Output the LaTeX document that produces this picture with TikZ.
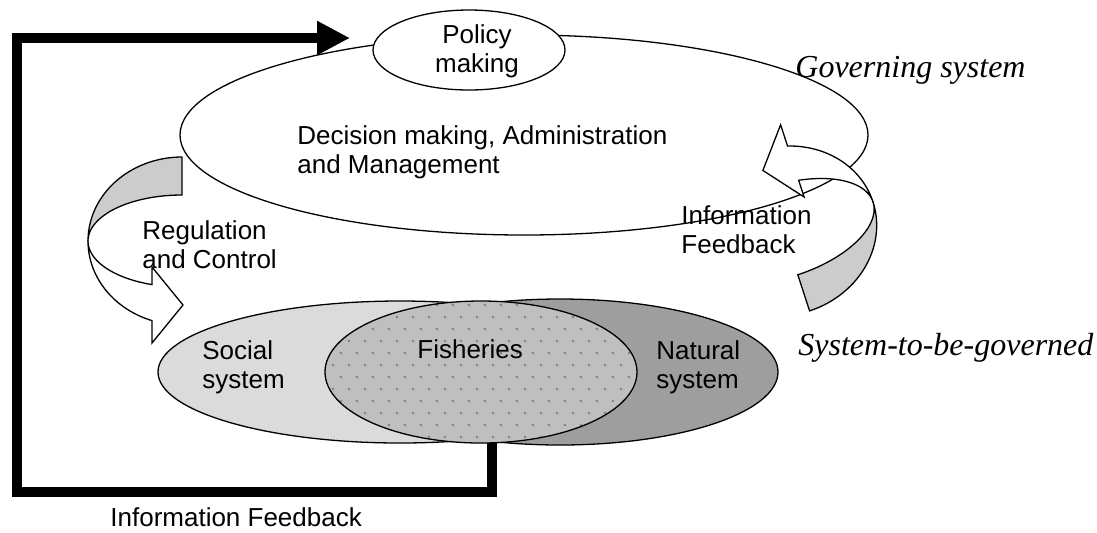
\documentclass[tikz,border=0pt]{standalone}
\usepackage{fontspec}
\setmainfont{Liberation Sans}
\newfontfamily\tnr{Liberation Serif}
\usetikzlibrary{shapes.geometric,arrows.meta}
\tikzset{
  outl/.style={draw=black, line width=0.65pt},
  ell/.style={ellipse, inner sep=0pt, outer sep=0pt},
  lbl/.style={font=\fontsize{13}{14.5}\selectfont, align=left, inner sep=0pt, anchor=base west},
  ital/.style={font=\tnr\itshape\fontsize{16}{18}\selectfont, inner sep=0pt, anchor=base west},
  fbline/.style={line width=5pt, line join=miter, -{Triangle[length=16.5pt,width=16pt]}},
  rback/.style={outl, fill=black!20},
  rfront/.style={outl, fill=white},
  dotc/.style={fill=black!50},
}
\newcommand{\ribbonshape}{%
  \filldraw[rback] plot[domain=-90:-180, samples=40] ({94*cos(\x)},{84*sin(\x)})
     -- plot[domain=-180:-90, samples=40] ({94*cos(\x)},{46*sin(\x)}) -- cycle;
  \filldraw[rfront] plot[domain=-180:-251.4, samples=40] ({94*cos(\x)},{84*sin(\x)})
     -- (-30,102) -- (1,64) -- (-30,26)
     -- plot[domain=-251.4:-180, samples=40] ({94*cos(\x)},{46*sin(\x)}) -- cycle;
}
\begin{document}
\begin{tikzpicture}[x=0.5pt,y=-0.5pt]
\useasboundingbox (0,0) rectangle (1097,532);

% governing system
\node[ell, outl, fill=white, minimum width=344pt, minimum height=100pt] (dec) at (524,135) {};
\node[ell, outl, fill=white, minimum width=96pt, minimum height=40pt] (pol) at (469,50) {};

% system to be governed
\node[ell, outl, fill=black!14, minimum width=242pt, minimum height=71pt] (soc) at (400,372) {};
\node[ell, outl, fill=black!38, minimum width=218pt, minimum height=73pt] (nat) at (560,372) {};
\node[ell, fill=black!25, minimum width=156pt, minimum height=71pt] (fish) at (481,372) {};
\begin{scope}
  \clip (fish.center) ellipse [x radius=156, y radius=71];
  \foreach \r in {0,...,13} {
    \foreach \c in {0,...,21} {
      \fill[dotc] ({325+\c*16+mod(\r,2)*8},{305+\r*12}) circle[radius=0.7pt];
    }
  }
\end{scope}
\draw[outl] (fish.center) ellipse [x radius=156, y radius=71];

% curved ribbon arrows
\begin{scope}[shift={(182,241)}]
  \ribbonshape
\end{scope}
\begin{scope}[shift={(783.6,231)}, rotate=-162]
  \ribbonshape
\end{scope}

% thick feedback arrow
\coordinate (fbl) at (17,492);
\coordinate (ftl) at (17,38);
\coordinate (ftip) at (350,38);
\draw[fbline] (fish.-81) |- (fbl) -- (ftl) -- (ftip);

% labels (multi-line nodes: anchor base = last line baseline)
\node[lbl, anchor=base, align=center] (poltxt) at (477,72) {Policy\\making};
\node[lbl] (dectxt) at (297,173) {Decision making, Administration\\and Management};
\node[lbl] (regtxt) at (142,268) {Regulation\\and Control};
\node[lbl] (inftxt) at (681,253) {Information\\Feedback};
\node[lbl] (soctxt) at (202,388) {Social\\system};
\node[lbl] (fishtxt) at (417,358) {Fisheries};
\node[lbl] (nattxt) at (656,388) {Natural\\system};
\node[lbl] (botinf) at (110,526) {Information Feedback};
\node[ital] (gov) at (795,77) {Governing system};
\node[ital] (stbg) at (798,355) {System-to-be-governed};
\end{tikzpicture}
\end{document}
